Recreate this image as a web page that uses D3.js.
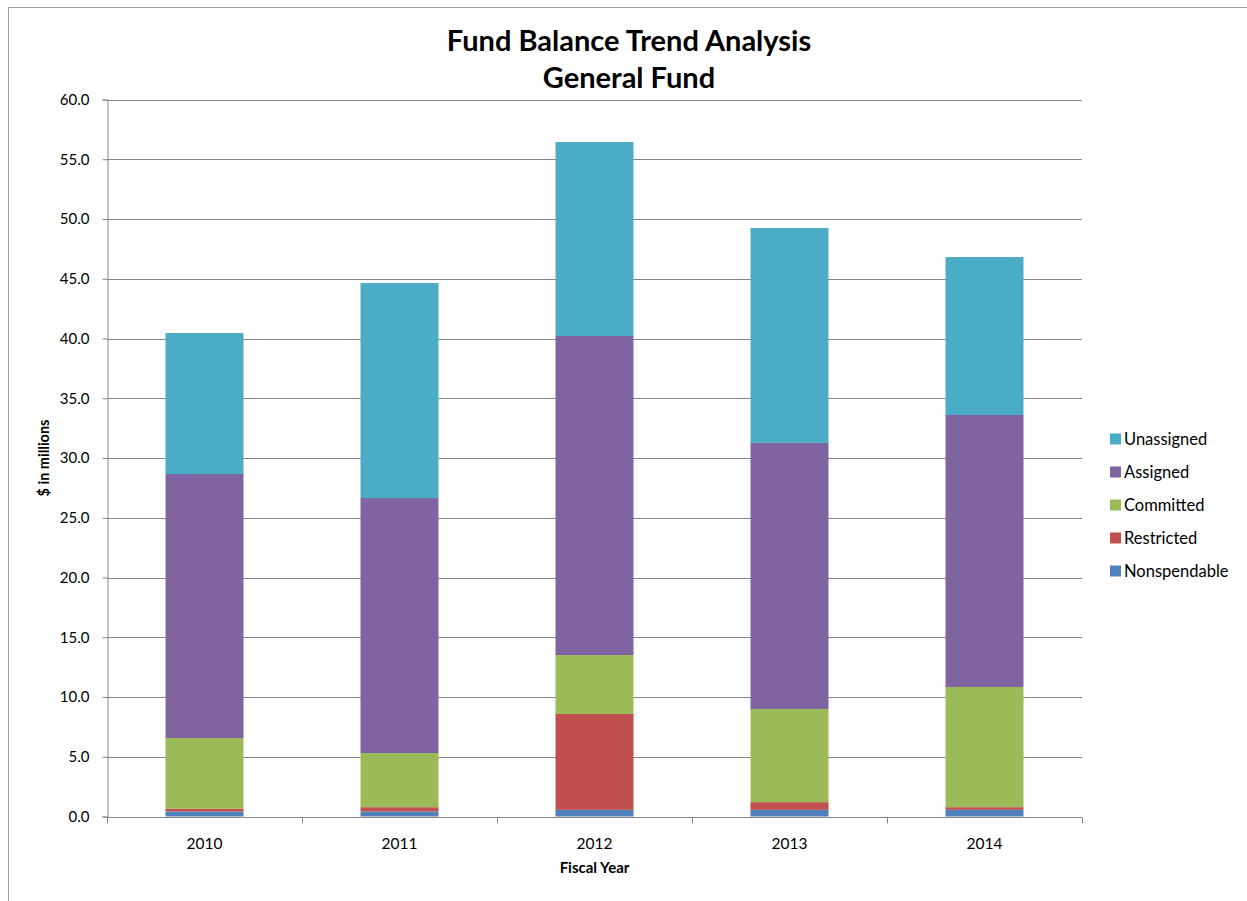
<!DOCTYPE html>
<html>
<head>
<meta charset="utf-8">
<script src="https://cdn.jsdelivr.net/npm/d3@7"></script>
<style>
  body { margin: 0; background: #fff; }
  text { font-family: Lato, "Open Sans", sans-serif; fill: #000; }
</style>
</head>
<body>
<div id="chart"></div>
<script>
// fiscal years on the x axis
var years = ["2010", "2011", "2012", "2013", "2014"];

// fund balance components, $ in millions
var nonspendable = [0.42, 0.42, 0.56, 0.56, 0.56];
var restricted   = [0.24, 0.36, 8.02, 0.64, 0.22];
var committed    = [5.91, 4.53, 4.93, 7.80, 10.06];
var assigned     = [22.09, 21.34, 26.70, 22.26, 22.76];
var unassigned   = [11.80, 17.99, 16.23, 17.99, 13.22];

var seriesNames = ["Nonspendable", "Restricted", "Committed", "Assigned", "Unassigned"];
var seriesColors = ["#4F81BD", "#C0504D", "#9BBB59", "#8064A2", "#4BACC6"];
var yTicks = [0, 5, 10, 15, 20, 25, 30, 35, 40, 45, 50, 55, 60];

var width = 1247;
var height = 901;
var margin = { top: 99.5, left: 107, right: 165, bottom: 84.5 };

// rows for d3.stack
var rows = years.map(function (y, i) {
  return {
    year: y,
    Nonspendable: nonspendable[i],
    Restricted: restricted[i],
    Committed: committed[i],
    Assigned: assigned[i],
    Unassigned: unassigned[i]
  };
});
var stacked = d3.stack().keys(seriesNames)(rows);

var svg = d3.select("#chart")
  .append("svg")
  .attr("width", width)
  .attr("height", height);

// outer chart border
svg.append("rect")
  .attr("x", 8.5)
  .attr("y", 7.5)
  .attr("width", width + 10)
  .attr("height", height + 10)
  .attr("fill", "none")
  .attr("stroke", "#a0a0a0")
  .attr("stroke-width", 1);

var xScale = d3.scaleBand()
  .domain(years)
  .range([margin.left, width - margin.right])
  .paddingInner(0.6)
  .paddingOuter(0.3);

var yScale = d3.scaleLinear()
  .domain([0, 60])
  .range([height - margin.bottom, margin.top]);

// horizontal gridlines
svg.append("g")
  .selectAll("line")
  .data(yTicks.slice(1))
  .enter()
  .append("line")
  .attr("x1", margin.left)
  .attr("x2", width - margin.right)
  .attr("y1", d => Math.round(yScale(d)) + 0.5)
  .attr("y2", d => Math.round(yScale(d)) + 0.5)
  .attr("stroke", "#868686");

// bars
svg.append("g")
  .selectAll("g")
  .data(stacked)
  .enter()
  .append("g")
  .attr("fill", (d, i) => seriesColors[i])
  .selectAll("rect")
  .data(d => d)
  .enter()
  .append("rect")
  .attr("x", d => xScale(d.data.year))
  .attr("y", d => yScale(d[1]))
  .attr("width", xScale.bandwidth())
  .attr("height", d => yScale(d[0]) - yScale(d[1]));

// y axis
var yAxis = d3.axisLeft(yScale)
  .tickValues(yTicks)
  .tickFormat(d3.format(".1f"))
  .tickSize(5)
  .tickPadding(13);
var gy = svg.append("g")
  .attr("transform", "translate(" + (margin.left + 0.5) + ",0)")
  .call(yAxis);
gy.select(".domain").attr("stroke", "#868686");
gy.selectAll(".tick line").attr("stroke", "#868686");
gy.selectAll(".tick text")
  .style("font-size", "15px")
  .style("font-family", "Lato, sans-serif")
  .attr("fill", "#000");

// x axis with ticks between categories
var boundaries = d3.range(years.length + 1);
var step = xScale.step();
var x0 = margin.left;
var gx = svg.append("g")
  .attr("transform", "translate(0," + (Math.round(yScale(0)) + 0.5) + ")");
gx.append("line")
  .attr("x1", margin.left)
  .attr("x2", width - margin.right)
  .attr("stroke", "#868686");
gx.selectAll(".bt")
  .data(boundaries)
  .enter()
  .append("line")
  .attr("class", "bt")
  .attr("x1", d => Math.round(x0 + d * step) + 0.5)
  .attr("x2", d => Math.round(x0 + d * step) + 0.5)
  .attr("y1", 0)
  .attr("y2", 6)
  .attr("stroke", "#868686");
gx.selectAll(".lbl")
  .data(years)
  .enter()
  .append("text")
  .attr("class", "lbl")
  .attr("x", d => xScale(d) + xScale.bandwidth() / 2)
  .attr("y", 31)
  .attr("text-anchor", "middle")
  .style("font-size", "15.5px")
  .text(d => d);

// title
svg.append("text")
  .attr("x", 629)
  .attr("y", 51)
  .attr("text-anchor", "middle")
  .style("font-size", "29px")
  .style("font-weight", "bold")
  .text("Fund Balance Trend Analysis");
svg.append("text")
  .attr("x", 629)
  .attr("y", 88)
  .attr("text-anchor", "middle")
  .style("font-size", "29px")
  .style("font-weight", "bold")
  .text("General Fund");

// axis titles
svg.append("text")
  .attr("transform", "translate(49," + ((margin.top + height - margin.bottom) / 2) + ") rotate(-90)")
  .attr("text-anchor", "middle")
  .style("font-size", "14.5px")
  .style("font-weight", "bold")
  .text("$ in millions");
svg.append("text")
  .attr("x", (margin.left + width - margin.right) / 2)
  .attr("y", 873)
  .attr("text-anchor", "middle")
  .style("font-size", "15px")
  .style("font-weight", "bold")
  .text("Fiscal Year");

// legend, top entry is Unassigned
var legendItems = seriesNames.slice().reverse();
var legendColors = seriesColors.slice().reverse();
var legend = svg.append("g")
  .selectAll("g")
  .data(legendItems)
  .enter()
  .append("g")
  .attr("transform", (d, i) => "translate(1110," + (439 + i * 33) + ")");
legend.append("rect")
  .attr("x", 0)
  .attr("y", -5.5)
  .attr("width", 11)
  .attr("height", 11)
  .attr("fill", (d, i) => legendColors[i]);
legend.append("text")
  .attr("x", 14)
  .attr("y", 6)
  .style("font-size", "16.5px")
  .text(d => d);
</script>
</body>
</html>
